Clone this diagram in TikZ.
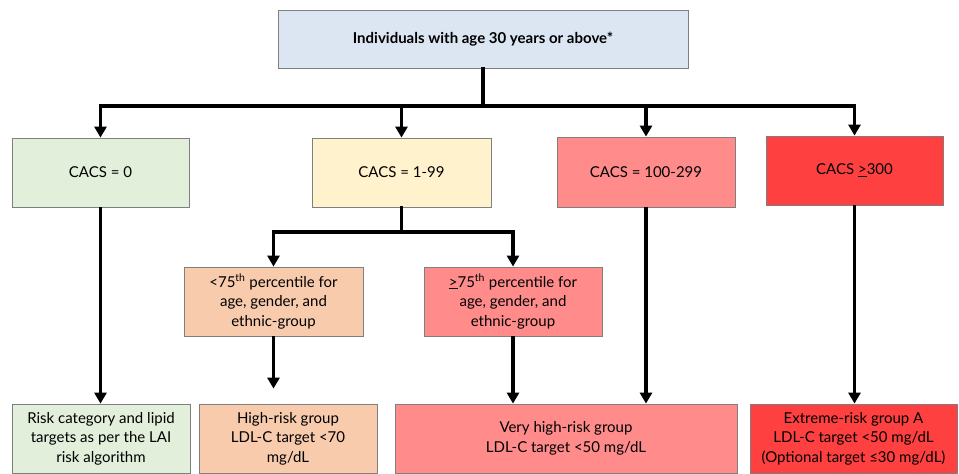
\documentclass[tikz,border=0pt]{standalone}
\usepackage{fontspec}
\setmainfont{Lato}
\usetikzlibrary{arrows.meta}
\definecolor{cblue}{HTML}{DCE6F2}
\definecolor{cgreen}{HTML}{E2EFDA}
\definecolor{cyellow}{HTML}{FFF2CC}
\definecolor{cpeach}{HTML}{F8CBAD}
\definecolor{cpink}{HTML}{FF8B8B}
\definecolor{cred}{HTML}{FF4040}
\definecolor{boxline}{HTML}{7F7F7F}
\begin{document}
\begin{tikzpicture}[x=1pt,y=-1pt,
  box/.style={draw=boxline, line width=0.8pt, inner sep=0pt, align=center,
    font=\fontsize{15}{19.5}\selectfont},
  line/.style={line width=3.5pt, line join=miter, line cap=rect},
  conn/.style={line width=3.5pt, line join=miter, -{Triangle[length=11pt,width=12pt]}}]
\useasboundingbox (0,0) rectangle (959,474);
% top
\node[box, fill=cblue, minimum width=410pt, minimum height=58pt,
  font=\fontsize{15}{18}\selectfont\bfseries] (top) at (483,39) {Individuals with age 30 years or above*};
% level 2
\node[box, fill=cgreen, minimum width=177pt, minimum height=69pt] (c0) at (100.5,172.5) {CACS = 0};
\node[box, fill=cyellow, minimum width=179pt, minimum height=69pt] (c1) at (401.5,172.5) {CACS = 1-99};
\node[box, fill=cpink, minimum width=178pt, minimum height=70pt] (c2) at (646,172) {CACS = 100-299};
\node[box, fill=cred, minimum width=177pt, minimum height=69pt] (c3) at (854.5,170.5) {CACS \underline{>}300};
% level 3
\node[box, fill=cpeach, minimum width=179pt, minimum height=69pt] (lt) at (273.5,301.5)
  {<75\textsuperscript{th} percentile for\\age, gender, and\\ethnic-group};
\node[box, fill=cpink, minimum width=178pt, minimum height=69pt] (ge) at (513,301.5)
  {\underline{>}75\textsuperscript{th} percentile for\\age, gender, and\\ethnic-group};
% level 4
\node[box, fill=cgreen, minimum width=178pt, minimum height=69pt] (r0) at (101,438.5)
  {Risk category and lipid\\targets as per the LAI\\risk algorithm};
\node[box, fill=cpeach, minimum width=178pt, minimum height=69pt] (r1) at (288,438.5)
  {High-risk group\\LDL-C target <70\\mg/dL};
\node[box, fill=cpink, minimum width=342pt, minimum height=69pt] (r2) at (566,438.5)
  {Very high-risk group\\LDL-C target <50 mg/dL};
\node[box, fill=cred, minimum width=207pt, minimum height=69pt] (r3) at (853.5,438.5)
  {Extreme-risk group A\\LDL-C target <50 mg/dL\\(Optional target ≤30 mg/dL)};
% connectors
\coordinate (j1) at (483,106);
\coordinate (j2) at (401.5,232);
\draw[line] (top.south) -- (j1);
\draw[conn] (j1) -| (c0.north);
\draw[conn] (j1) -| (c1.north);
\draw[conn] (j1) -| (c2.north);
\draw[conn] (j1) -| (c3.north);
\draw[line] (c1.south) -- (j2);
\draw[conn] (j2) -| (lt.north);
\draw[conn] (j2) -| (ge.north);
\draw[conn] (c0.south) -- (c0.south |- r0.north);
\draw[conn, shorten >=15pt] (lt.south) -- (lt.south |- r1.north);
\draw[conn] (ge.south) -- (ge.south |- r2.north);
\draw[conn] (c2.south) -- (c2.south |- r2.north);
\draw[conn] (c3.south) -- (c3.south |- r3.north);
\end{tikzpicture}
\end{document}
